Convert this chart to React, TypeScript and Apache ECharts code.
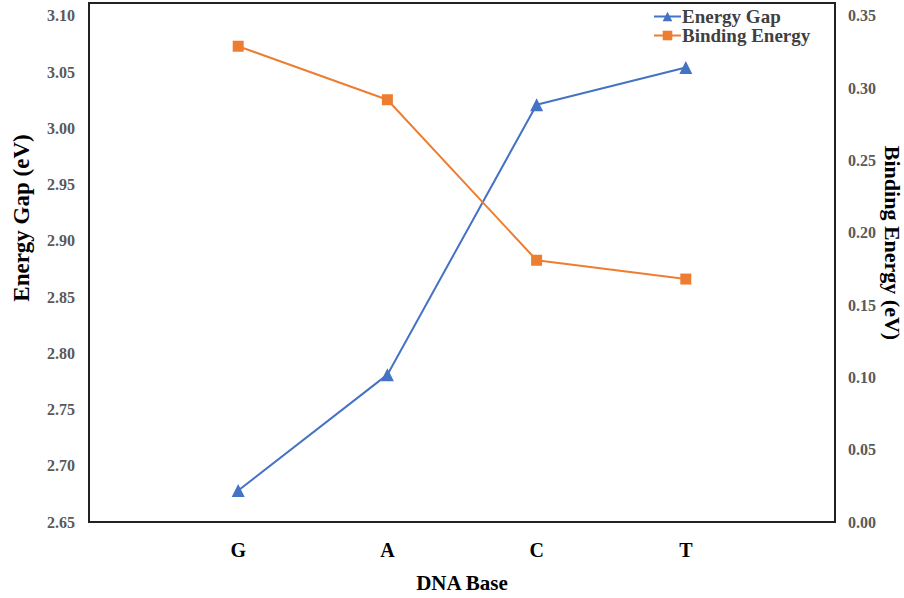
import React, { useEffect, useRef } from "react";
import * as echarts from "echarts";

const categories = ["", "G", "A", "C", "T", ""];
const energyGap = [null, 2.678, 2.781, 3.021, 3.054, null];
const bindingEnergy = [null, 0.329, 0.292, 0.181, 0.168, null];
const leftTicks = { min: 2.65, interval: 0.05, max: 3.1114 };
const rightTicks = { min: 0, interval: 0.05, max: 0.3589 };

const FONT = "'Liberation Serif', 'Times New Roman', serif";
const BLUE = "#4472C4";
const ORANGE = "#ED7D31";

export default function App() {
  const ref = useRef<HTMLDivElement>(null);
  useEffect(() => {
    if (!ref.current) return;
    const chart = echarts.init(ref.current, undefined, { renderer: "svg" });
    chart.setOption({
      animation: false,
      backgroundColor: "#fff",
      grid: {
        left: 89,
        right: 69,
        top: 3,
        bottom: 75,
        show: true,
        borderColor: "#222",
        borderWidth: 2,
        backgroundColor: "transparent",
      },
      legend: {
        orient: "vertical",
        left: 648,
        top: 2,
        itemWidth: 27,
        itemHeight: 12,
        itemGap: 0,
        textStyle: {
          fontFamily: FONT, fontWeight: "bold", fontSize: 19, lineHeight: 19,
          color: "#404040", padding: [0, 0, 0, -4],
        },
        data: ["Energy Gap", "Binding Energy"],
      },
      xAxis: {
        type: "category",
        data: categories,
        boundaryGap: false,
        axisLine: { show: false },
        axisTick: { show: false },
        splitLine: { show: false },
        axisLabel: { fontFamily: FONT, fontWeight: "bold", fontSize: 20, color: "#000", margin: 18, interval: 0 },
        name: "DNA Base",
        nameLocation: "middle",
        nameGap: 50,
        nameTextStyle: { fontFamily: FONT, fontWeight: "bold", fontSize: 21, color: "#000" },
      },
      yAxis: [
        {
          type: "value",
          min: leftTicks.min,
          max: leftTicks.max,
          interval: leftTicks.interval,
          axisLine: { show: false },
          axisTick: { show: false },
          splitLine: { show: false },
          axisLabel: {
            fontFamily: FONT, fontWeight: "bold", fontSize: 16, color: "#595959", margin: 14,
            showMaxLabel: false,
            formatter: (v: number) => v.toFixed(2),
          },
        },
        {
          type: "value",
          position: "right",
          min: rightTicks.min,
          max: rightTicks.max,
          interval: rightTicks.interval,
          axisLine: { show: false },
          axisTick: { show: false },
          splitLine: { show: false },
          axisLabel: {
            fontFamily: FONT, fontWeight: "bold", fontSize: 16, color: "#595959", margin: 13,
            showMaxLabel: false,
            formatter: (v: number) => v.toFixed(2),
          },
        },
      ],
      graphic: [
        {
          type: "text",
          x: 21,
          y: 218,
          rotation: Math.PI / 2,
          style: {
            text: "Energy Gap (eV)",
            fontFamily: FONT, fontWeight: "bold", fontSize: 23, fill: "#000",
            align: "center", verticalAlign: "middle",
          },
        },
        {
          type: "text",
          x: 892,
          y: 243,
          rotation: -Math.PI / 2,
          style: {
            text: "Binding Energy (eV)",
            fontFamily: FONT, fontWeight: "bold", fontSize: 22, fill: "#000",
            align: "center", verticalAlign: "middle",
          },
        },
      ],
      series: [
        {
          name: "Energy Gap",
          type: "line",
          yAxisIndex: 0,
          data: energyGap,
          symbol: "triangle",
          symbolSize: 13,
          itemStyle: { color: BLUE },
          lineStyle: { color: BLUE, width: 2 },
        },
        {
          name: "Binding Energy",
          type: "line",
          yAxisIndex: 1,
          data: bindingEnergy,
          symbol: "rect",
          symbolSize: 11,
          itemStyle: { color: ORANGE },
          lineStyle: { color: ORANGE, width: 2 },
        },
      ],
    });
    return () => chart.dispose();
  }, []);
  return <div ref={ref} style={{ position: "absolute", left: 0, top: 0, width: 904, height: 598 }} />;
}
